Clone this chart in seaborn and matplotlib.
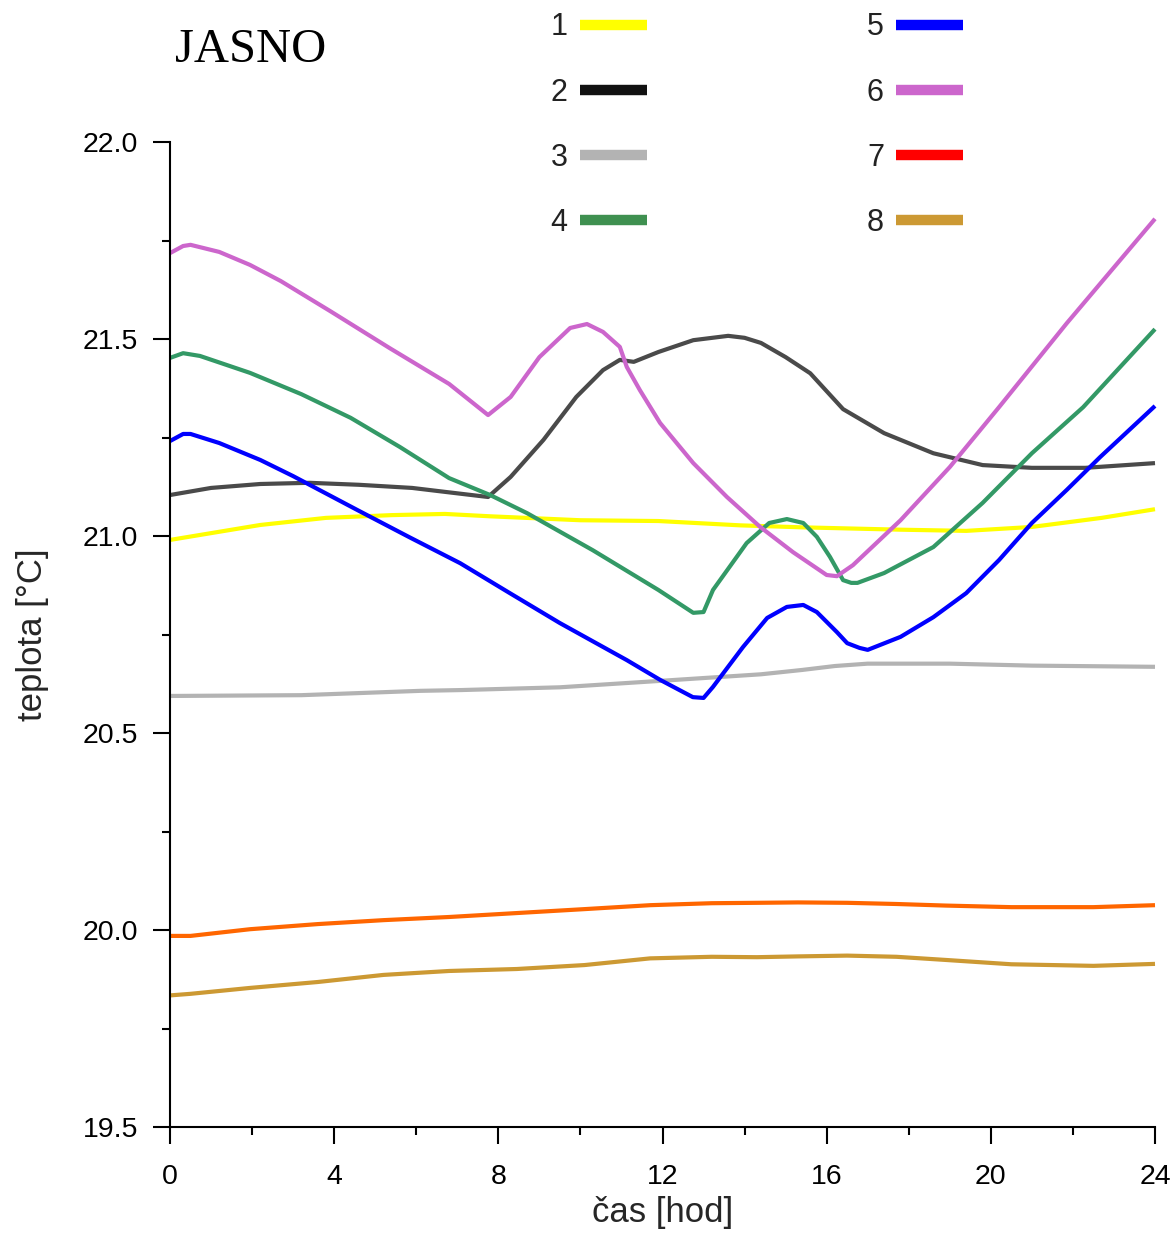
import numpy as np
import pandas as pd
import matplotlib
matplotlib.use("Agg")
import matplotlib.pyplot as plt
from matplotlib.lines import Line2D
import seaborn as sns

# values (hour, temperature in degC)
hours_1 = [0, 2.2, 3.8, 5.4, 6.7, 7.8, 10, 11.9, 13.9, 15.4, 17.8, 19.4, 21.0, 22.7, 24]
temp_1 = [20.99, 21.028, 21.046, 21.053, 21.056, 21.05, 21.04, 21.038, 21.027, 21.022,
          21.016, 21.013, 21.023, 21.046, 21.068]

hours_2 = [0, 1.0, 2.2, 3.4, 4.6, 5.9, 6.7, 7.75, 8.3, 9.1, 9.9, 10.55, 10.96, 11.3,
           11.9, 12.75, 13.6, 14.0, 14.4, 15.0, 15.6, 16.4, 17.4, 18.6, 19.8, 21.0,
           22.3, 24]
temp_2 = [21.104, 21.122, 21.132, 21.135, 21.13, 21.122, 21.112, 21.099, 21.15, 21.244,
          21.353, 21.421, 21.447, 21.442, 21.467, 21.497, 21.508, 21.503, 21.49, 21.454,
          21.413, 21.322, 21.261, 21.21, 21.18, 21.173, 21.173, 21.185]

hours_3 = [0, 3.2, 6.1, 7.1, 9.5, 11.9, 14.4, 15.4, 16.2, 17.0, 19.0, 21.0, 24]
temp_3 = [20.594, 20.596, 20.607, 20.609, 20.616, 20.632, 20.649, 20.66, 20.67, 20.676,
          20.676, 20.671, 20.668]

hours_4 = [0, 0.32, 0.73, 1.95, 3.2, 4.4, 5.6, 6.8, 7.8, 8.7, 10.3, 11.9, 12.75, 13.0,
           13.23, 14.05, 14.6, 15.03, 15.43, 15.76, 16.08, 16.4, 16.6, 16.75, 17.4,
           18.6, 19.8, 21.0, 22.25, 24]
temp_4 = [21.452, 21.464, 21.457, 21.414, 21.36, 21.3, 21.226, 21.147, 21.104, 21.058,
          20.964, 20.863, 20.805, 20.807, 20.863, 20.982, 21.033, 21.043, 21.033, 20.998,
          20.947, 20.888, 20.881, 20.881, 20.906, 20.972, 21.084, 21.21, 21.327, 21.525]

hours_5 = [0, 0.32, 0.5, 1.2, 2.2, 3.0, 3.8, 4.6, 5.85, 7.07, 8.28, 9.5, 11.13, 11.94,
           12.74, 13.0, 13.23, 13.96, 14.55, 15.03, 15.43, 15.76, 16.25, 16.5, 16.8,
           17.0, 17.8, 18.6, 19.4, 20.2, 21.0, 21.85, 22.66, 24]
temp_5 = [21.241, 21.259, 21.259, 21.236, 21.193, 21.152, 21.108, 21.064, 20.996, 20.931,
          20.855, 20.779, 20.685, 20.635, 20.591, 20.589, 20.617, 20.718, 20.792, 20.82,
          20.825, 20.807, 20.756, 20.728, 20.716, 20.711, 20.744, 20.794, 20.855, 20.939,
          21.033, 21.117, 21.2, 21.33]

hours_6 = [0, 0.32, 0.5, 1.2, 1.95, 2.7, 3.9, 5.35, 6.8, 7.75, 8.3, 9.0, 9.75, 10.16,
           10.55, 10.96, 11.13, 11.45, 11.94, 12.75, 13.57, 14.38, 15.18, 16.0, 16.25,
           16.64, 17.8, 19.0, 20.2, 21.85, 24]
temp_6 = [21.718, 21.736, 21.739, 21.721, 21.688, 21.647, 21.571, 21.477, 21.386, 21.307,
          21.353, 21.454, 21.528, 21.538, 21.518, 21.48, 21.429, 21.37, 21.287, 21.185,
          21.099, 21.023, 20.959, 20.901, 20.898, 20.926, 21.04, 21.175, 21.327, 21.54,
          21.805]

hours_7 = [0, 0.5, 1.95, 3.6, 5.2, 6.8, 8.45, 10.1, 11.7, 13.2, 14.3, 15.3, 16.5, 17.7,
           18.9, 20.5, 22.5, 24]
temp_7 = [19.985, 19.985, 20.002, 20.015, 20.025, 20.033, 20.043, 20.053, 20.063, 20.068,
          20.069, 20.07, 20.069, 20.066, 20.062, 20.058, 20.058, 20.063]

hours_8 = [0, 0.5, 1.95, 3.6, 5.2, 6.8, 8.45, 10.1, 11.7, 13.2, 14.3, 15.3, 16.5, 17.7,
           18.9, 20.5, 22.5, 24]
temp_8 = [19.834, 19.838, 19.853, 19.868, 19.886, 19.896, 19.901, 19.911, 19.928, 19.932,
          19.931, 19.933, 19.935, 19.932, 19.924, 19.913, 19.909, 19.914]

series_names = ["1", "2", "3", "4", "5", "6", "7", "8"]
line_colors = ["#ffff00", "#4a4a4a", "#b3b3b3", "#339966",
               "#0000ff", "#cc66cc", "#ff6600", "#cc9933"]
legend_colors = ["#ffff00", "#111111", "#b3b3b3", "#3f9050",
                 "#0000ff", "#cc66cc", "#ff0000", "#cc9933"]

x_ticks = [0, 4, 8, 12, 16, 20, 24]
y_ticks = [19.5, 20.0, 20.5, 21.0, 21.5, 22.0]

all_hours = [hours_1, hours_2, hours_3, hours_4, hours_5, hours_6, hours_7, hours_8]
all_temps = [temp_1, temp_2, temp_3, temp_4, temp_5, temp_6, temp_7, temp_8]

frames = []
for name, h, t in zip(series_names, all_hours, all_temps):
    frames.append(pd.DataFrame({"hod": h, "teplota": t, "serie": name}))
df = pd.concat(frames, ignore_index=True)

sns.set_style("ticks")
plt.rcParams["font.family"] = ["Liberation Sans", "DejaVu Sans"]

fig = plt.figure(figsize=(11.76, 12.36), dpi=100)
ax = fig.add_axes([170 / 1176, 1 - 1127 / 1236, 985 / 1176, 985 / 1236])

sns.lineplot(data=df, x="hod", y="teplota", hue="serie",
             palette=dict(zip(series_names, line_colors)),
             hue_order=series_names, estimator=None, sort=True,
             linewidth=3, legend=False, ax=ax)
for ln in ax.get_lines():
    ln.set_clip_on(False)
    ln.set_solid_capstyle("butt")

ax.set_xlim(0, 24)
ax.set_ylim(19.5, 22.0)
ax.set_xticks(x_ticks)
ax.set_xticks(np.arange(2, 24, 4), minor=True)
ax.set_yticks(y_ticks)
ax.set_yticks(np.arange(19.75, 22.0, 0.5), minor=True)
ax.set_yticklabels([f"{v:.1f}" for v in y_ticks])

sns.despine(ax=ax)
for side in ["left", "bottom"]:
    ax.spines[side].set_linewidth(1.5)
    ax.spines[side].set_color("black")
ax.tick_params(which="major", length=12, width=1.5, labelsize=20.5, pad=11,
               color="black", labelcolor="black")
ax.tick_params(which="minor", length=6, width=1.5, color="black")
ax.tick_params(axis="x", pad=15)

ax.set_xlabel("čas [hod]", fontsize=25, labelpad=4)
ax.set_ylabel("teplota [°C]", fontsize=25, labelpad=24)

fig.text(175 / 1176, 1 - 50 / 1236, "JASNO", family=["Liberation Serif", "DejaVu Serif"],
         fontsize=35, va="center", ha="left", color="black")

# legend: two columns of number + line sample above the axes
handles = [Line2D([0], [0], color=c, linewidth=7.5, solid_capstyle="butt")
           for c in legend_colors]
leg = fig.legend(handles, series_names, ncol=2,
                 markerfirst=False, frameon=False, fontsize=22,
                 handlelength=2.2, handletextpad=0.4, columnspacing=7.2,
                 labelspacing=1.15, borderpad=0.4, loc="upper left",
                 bbox_to_anchor=(523 / 1176, 1 + 15 / 1236))
for txt in leg.get_texts():
    txt.set_color("#222222")

fig.savefig("out.png", dpi=100)
